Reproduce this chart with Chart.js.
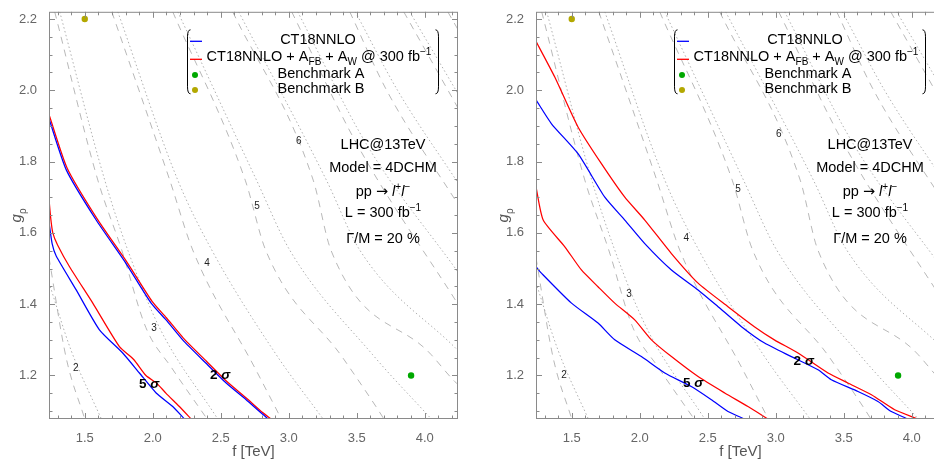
<!DOCTYPE html>
<html>
<head>
<meta charset="utf-8">
<script src="https://cdn.jsdelivr.net/npm/chart.js@4.4.0/dist/chart.umd.min.js"></script>
<style>
  html, body { margin: 0; padding: 0; background: #fff; overflow: hidden; width: 934px; height: 459px; }
  .panel { position: absolute; top: 0; width: 470px; height: 459px; }
</style>
</head>
<body>
<div class="panel" style="left:0"><canvas id="leftChart" width="470" height="459"></canvas></div>
<div class="panel" style="left:487px"><canvas id="rightChart" width="470" height="459"></canvas></div>
<script>
/* ---------- axes ---------- */
const xRange = [1.237, 4.245];
const yRange = [1.078, 2.22];
const xMajor = [1.5, 2.0, 2.5, 3.0, 3.5, 4.0];
const yMajor = [1.2, 1.4, 1.6, 1.8, 2.0, 2.2];
const xMinor = [1.3, 1.4, 1.6, 1.7, 1.8, 1.9, 2.1, 2.2, 2.3, 2.4, 2.6, 2.7, 2.8, 2.9,
                3.1, 3.2, 3.3, 3.4, 3.6, 3.7, 3.8, 3.9, 4.1, 4.2];
const yMinor = [1.1, 1.15, 1.25, 1.3, 1.35, 1.45, 1.5, 1.55, 1.65, 1.7, 1.75,
                1.85, 1.9, 1.95, 2.05, 2.1, 2.15];

/* ---------- benchmarks ---------- */
const benchA = [[3.9, 1.2]];
const benchB = [[1.5, 2.2]];

/* ---------- background contours (f, g_rho) ---------- */
const massDotted = [
  [[1.237, 1.46], [1.40, 1.27], [1.622, 1.078]],
  [[1.316, 2.22], [1.647, 1.748], [1.816, 1.552], [2.05, 1.334], [2.478, 1.078]],
  [[1.743, 2.22], [2.184, 1.748], [2.434, 1.552], [2.909, 1.258], [3.253, 1.078]],
  [[2.184, 2.22], [2.763, 1.748], [3.007, 1.552], [3.618, 1.258], [4.049, 1.078]],
  [[2.632, 2.22], [3.277, 1.748], [3.522, 1.552], [4.245, 1.27]],
  [[3.066, 2.22], [3.57, 1.85], [4.245, 1.49]],
  [[3.49, 2.22], [3.8, 2.0], [4.245, 1.74]],
  [[3.89, 2.22], [4.245, 1.99]]
];
const massDashed = [
  [[1.237, 1.53], [1.363, 1.25], [1.5, 1.078]],
  [[1.279, 2.22], [1.596, 1.748], [1.772, 1.552], [1.95, 1.334], [2.14, 1.221], [2.40, 1.078]],
  [[1.699, 2.22], [2.125, 1.748], [2.294, 1.552], [2.75, 1.222], [2.946, 1.078]],
  [[2.147, 2.22], [2.68, 1.748], [2.83, 1.552], [3.397, 1.25], [3.645, 1.111], [3.70, 1.078]],
  [[2.588, 2.22], [3.18, 1.748], [3.31, 1.552], [4.049, 1.258], [4.221, 1.183], [4.245, 1.175]],
  [[3.022, 2.22], [3.50, 1.85], [4.245, 1.40]],
  [[3.449, 2.22], [3.72, 2.0], [4.245, 1.68]],
  [[3.846, 2.22], [4.245, 1.95]],
  [[4.17, 2.22], [4.245, 2.17]]
];
const contourTags = ['2', '3', '4', '5', '6'];

/* ---------- exclusion curves, left panel ---------- */
const leftBlue2s = [[1.237, 1.92], [1.365, 1.776], [1.584, 1.636], [1.804, 1.514], [1.988, 1.403],
  [2.098, 1.356], [2.22, 1.30], [2.39, 1.235], [2.54, 1.179], [2.687, 1.132], [2.785, 1.099], [2.85, 1.078]];
const leftRed2s = [[1.237, 1.932], [1.37, 1.782], [1.59, 1.64], [1.81, 1.518], [1.995, 1.408],
  [2.10, 1.362], [2.225, 1.305], [2.395, 1.24], [2.545, 1.183], [2.69, 1.136], [2.79, 1.102], [2.87, 1.078]];
const leftBlue5s = [[1.237, 1.63], [1.26, 1.57], [1.29, 1.535], [1.437, 1.44], [1.608, 1.328], [1.779, 1.263],
  [1.902, 1.207], [2.025, 1.151], [2.147, 1.113], [2.233, 1.078]];
const leftRed5s = [[1.237, 1.694], [1.25, 1.64], [1.265, 1.60], [1.30, 1.566], [1.388, 1.505],
  [1.559, 1.403], [1.755, 1.281], [1.86, 1.245], [1.95, 1.20], [2.03, 1.178], [2.098, 1.15],
  [2.196, 1.113], [2.282, 1.078]];

/* ---------- exclusion curves, right panel ---------- */
const rightBlue2s = [[1.237, 1.973], [1.351, 1.906], [1.546, 1.822], [1.743, 1.70], [1.890, 1.636],
  [2.037, 1.570], [2.233, 1.496], [2.429, 1.440], [2.576, 1.393], [2.748, 1.337], [2.918, 1.291],
  [3.115, 1.253], [3.311, 1.216], [3.409, 1.188], [3.605, 1.155], [3.752, 1.127], [3.85, 1.099], [3.973, 1.078]];
const rightRed2s = [[1.237, 2.137], [1.375, 2.037], [1.546, 1.897], [1.718, 1.794], [1.890, 1.70],
  [2.037, 1.636], [2.233, 1.542], [2.429, 1.459], [2.649, 1.393], [2.843, 1.337], [2.99, 1.30],
  [3.164, 1.263], [3.385, 1.207], [3.531, 1.179], [3.704, 1.146], [3.875, 1.104], [4.046, 1.078]];
const rightBlue5s = [[1.237, 1.505], [1.277, 1.487], [1.498, 1.403], [1.693, 1.347], [1.816, 1.30],
  [2.012, 1.253], [2.184, 1.207], [2.379, 1.169], [2.527, 1.132], [2.649, 1.099], [2.772, 1.078]];
const rightRed5s = [[1.237, 1.729], [1.29, 1.636], [1.449, 1.561], [1.571, 1.496], [1.693, 1.449],
  [1.816, 1.403], [1.963, 1.356], [2.086, 1.30], [2.233, 1.253], [2.429, 1.197], [2.625, 1.151],
  [2.796, 1.113], [2.943, 1.078]];

/* ---------- helpers ---------- */
const FONT = '"Liberation Sans", Arial, sans-serif';
const toXY = pts => pts.map(p => ({ x: p[0], y: p[1] }));

function drawRich(ctx, parts, cx, cy, size, color) {
  let w = 0;
  const items = parts.map(([t, k]) => {
    const small = k === 'sub' || k === 'sup';
    let f = `${k === 'i' ? 'italic ' : ''}${small ? Math.round(size * 0.68) : size}px ${FONT}`;
    if (k === 'arrow') f = `${size}px "DejaVu Sans", sans-serif`;
    ctx.font = f;
    const m = ctx.measureText(t).width;
    w += m;
    return { t, k, f, m };
  });
  let x = cx - w / 2;
  const base = cy + size * 0.36;
  ctx.fillStyle = color || '#000';
  ctx.textAlign = 'left';
  ctx.textBaseline = 'alphabetic';
  items.forEach(it => {
    ctx.font = it.f;
    let yy = base;
    if (it.k === 'sub') yy += size * 0.28;
    if (it.k === 'sup') yy -= size * 0.42;
    ctx.fillText(it.t, x, yy);
    x += it.m;
  });
}

function paren(ctx, x, top, bottom, dir) {
  ctx.beginPath();
  ctx.moveTo(x + 3 * dir, top);
  ctx.quadraticCurveTo(x, top, x, top + 7);
  ctx.lineTo(x, bottom - 7);
  ctx.quadraticCurveTo(x, bottom, x + 3 * dir, bottom);
  ctx.stroke();
}

/* frame with inside ticks, legend, labels */
const decorPlugin = {
  id: 'decor',
  afterDatasetsDraw(chart, args, opts) {
    const { ctx, chartArea: a, scales: { x, y } } = chart;
    ctx.save();

    // frame + ticks
    ctx.strokeStyle = '#8a8a8a';
    ctx.lineWidth = 1;
    ctx.strokeRect(a.left + 0.5, a.top + 0.5, a.right - a.left - 1, a.bottom - a.top - 1);
    const seg = (x1, y1, x2, y2) => { ctx.beginPath(); ctx.moveTo(x1, y1); ctx.lineTo(x2, y2); ctx.stroke(); };
    const xt = (vals, len) => vals.forEach(v => {
      const p = Math.round(x.getPixelForValue(v)) + 0.5;
      seg(p, a.bottom, p, a.bottom - len);
      seg(p, a.top, p, a.top + len);
    });
    const yt = (vals, len) => vals.forEach(v => {
      const p = Math.round(y.getPixelForValue(v)) + 0.5;
      seg(a.left, p, a.left + len, p);
      seg(a.right, p, a.right - len, p);
    });
    xt(xMajor, 6); xt(xMinor, 3.5);
    yt(yMajor, 6); yt(yMinor, 3.5);

    // contour labels
    ctx.fillStyle = '#222';
    ctx.font = `10px ${FONT}`;
    ctx.textAlign = 'center';
    ctx.textBaseline = 'middle';
    opts.tags.forEach((p, i) => {
      ctx.fillText(contourTags[i], x.getPixelForValue(p[0]), y.getPixelForValue(p[1]));
    });

    // sigma labels
    opts.sigma.forEach(s => {
      const px = x.getPixelForValue(s.at[0]), py = y.getPixelForValue(s.at[1]);
      ctx.font = `bold 13.5px ${FONT}`;
      const w1 = ctx.measureText(s.n + ' ').width;
      ctx.font = `italic bold 13.5px ${FONT}`;
      const w2 = ctx.measureText('σ').width;
      ctx.fillStyle = '#000';
      ctx.textAlign = 'left';
      ctx.font = `bold 13.5px ${FONT}`;
      ctx.fillText(s.n + ' ', px - (w1 + w2) / 2, py);
      ctx.font = `italic bold 13.5px ${FONT}`;
      ctx.fillText('σ', px - (w1 + w2) / 2 + w1, py);
    });

    // legend
    const L = a.left, T = a.top;
    ctx.strokeStyle = '#000';
    ctx.lineWidth = 1;
    paren(ctx, L + 138.5, T + 18, T + 82, 1);
    paren(ctx, L + 389.5, T + 18, T + 82, -1);
    ctx.lineWidth = 1.3;
    ctx.strokeStyle = '#0000ff';
    seg(L + 141, T + 29.5, L + 153, T + 29.5);
    ctx.strokeStyle = '#ff0000';
    seg(L + 141, T + 47.5, L + 153, T + 47.5);
    ctx.fillStyle = '#00a800';
    ctx.beginPath(); ctx.arc(L + 146, T + 63.3, 3, 0, Math.PI * 2); ctx.fill();
    ctx.fillStyle = '#b3a800';
    ctx.beginPath(); ctx.arc(L + 146, T + 78.3, 3, 0, Math.PI * 2); ctx.fill();
    drawRich(ctx, [['CT18NNLO', '']], L + 269, T + 26.5, 14.5);
    drawRich(ctx, [['CT18NNLO + A', ''], ['FB', 'sub'], [' + A', ''], ['W', 'sub'],
                   [' @ 300 fb', ''], ['−1', 'sup']], L + 270, T + 44, 14.5);
    drawRich(ctx, [['Benchmark A', '']], L + 272, T + 61, 14.5);
    drawRich(ctx, [['Benchmark B', '']], L + 272, T + 76, 14.5);

    // process annotation
    const cx = L + 334;
    drawRich(ctx, [['LHC@13TeV', '']], cx, T + 132, 14.5);
    drawRich(ctx, [['Model = 4DCHM', '']], cx, T + 155, 14.5);
    drawRich(ctx, [['pp ', ''], ['→', 'arrow'], [' ', ''], ['l', 'i'], ['+', 'sup'], ['l', 'i'], ['−', 'sup']],
             cx, T + 179, 14.5);
    drawRich(ctx, [['L = 300 fb', ''], ['−1', 'sup']], cx, T + 200, 14.5);
    drawRich(ctx, [['Γ/M = 20 %', '']], cx, T + 226, 14.5);

    // y title
    ctx.save();
    ctx.translate(a.left - 33, (a.top + a.bottom) / 2);
    ctx.rotate(-Math.PI / 2);
    drawRich(ctx, [['g', 'i'], ['ρ', 'sub']], 0, 0, 15, '#555');
    ctx.restore();

    ctx.restore();
  }
};

function lineSet(pts, color, dash, width, smooth) {
  return {
    data: toXY(pts),
    showLine: true,
    borderColor: color,
    borderWidth: width,
    borderDash: dash,
    pointRadius: 0,
    fill: false,
    cubicInterpolationMode: smooth ? 'monotone' : 'default',
    tension: smooth ? 0 : 0.2
  };
}

function makeChart(id, curves, tags, sigma) {
  const datasets = [
    { data: toXY(benchA), pointRadius: 3.2, backgroundColor: '#00a800', borderWidth: 0 },
    { data: toXY(benchB), pointRadius: 3.2, backgroundColor: '#b3a800', borderWidth: 0 },
    lineSet(curves.blue2, '#0000ff', [], 1.25, false),
    lineSet(curves.red2, '#ff0000', [], 1.25, false),
    lineSet(curves.blue5, '#0000ff', [], 1.25, false),
    lineSet(curves.red5, '#ff0000', [], 1.25, false)
  ];
  massDotted.forEach(l => datasets.push(lineSet(l, '#b0b0b0', [1.5, 2.5], 1, true)));
  massDashed.forEach(l => datasets.push(lineSet(l, '#b8b8b8', [7, 6], 1, true)));

  return new Chart(document.getElementById(id), {
    type: 'scatter',
    data: { datasets },
    options: {
      responsive: false,
      animation: false,
      events: [],
      layout: { padding: { left: 0, right: 12, top: 11, bottom: 0 } },
      plugins: {
        legend: { display: false },
        tooltip: { enabled: false },
        decor: { tags, sigma }
      },
      scales: {
        x: {
          type: 'linear',
          min: xRange[0], max: xRange[1],
          afterBuildTicks: s => { s.ticks = xMajor.map(v => ({ value: v })); },
          afterFit: s => { s.height = 40; },
          grid: { display: false },
          border: { display: false },
          ticks: { color: '#666', font: { family: FONT, size: 13 }, padding: 4,
                   maxRotation: 0, callback: v => v.toFixed(1) },
          title: { display: true, text: 'f [TeV]', color: '#555',
                   font: { family: FONT, size: 15, lineHeight: 1 }, padding: { top: 0, bottom: 0 } }
        },
        y: {
          type: 'linear',
          min: yRange[0], max: yRange[1],
          afterBuildTicks: s => { s.ticks = yMajor.map(v => ({ value: v })); },
          afterFit: s => { s.width = 49; },
          grid: { display: false },
          border: { display: false },
          ticks: { color: '#666', font: { family: FONT, size: 13 }, padding: 4,
                   callback: v => v.toFixed(1) }
        }
      }
    },
    plugins: [decorPlugin]
  });
}

makeChart('leftChart',
  { blue2: leftBlue2s, red2: leftRed2s, blue5: leftBlue5s, red5: leftRed5s },
  [[1.434, 1.219], [2.010, 1.333], [2.399, 1.516], [2.767, 1.676], [3.074, 1.857]],
  [{ n: '5', at: [1.974, 1.174] }, { n: '2', at: [2.496, 1.20] }]);

makeChart('rightChart',
  { blue2: rightBlue2s, red2: rightRed2s, blue5: rightBlue5s, red5: rightRed5s },
  [[1.443, 1.200], [1.921, 1.429], [2.343, 1.586], [2.723, 1.722], [3.022, 1.876]],
  [{ n: '5', at: [2.393, 1.177] }, { n: '2', at: [3.206, 1.241] }]);
</script>
</body>
</html>
